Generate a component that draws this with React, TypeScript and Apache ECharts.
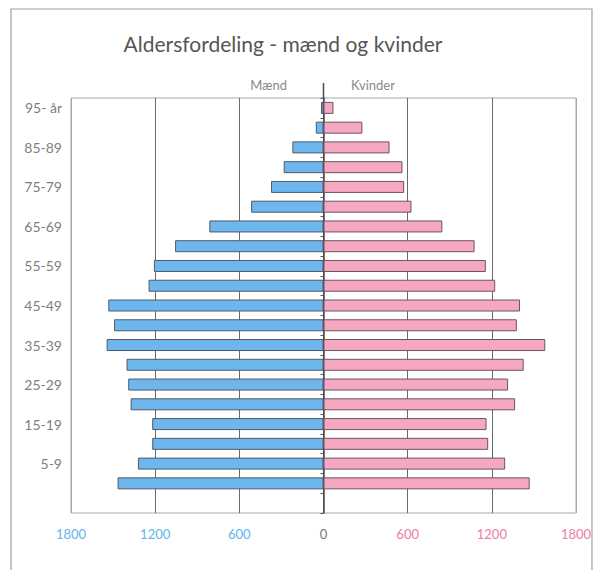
import React, { useEffect, useRef } from "react";
import * as echarts from "echarts";

const categories = ["", "0-4", "5-9", "10-14", "15-19", "20-24", "25-29", "30-34", "35-39", "40-44", "45-49", "50-54", "55-59", "60-64", "65-69", "70-74", "75-79", "80-84", "85-89", "90-94", "95- år"];
const maend = [null, 1468, 1323, 1221, 1221, 1375, 1392, 1404, 1546, 1493, 1534, 1247, 1209, 1058, 814, 516, 374, 284, 222, 55, 18];
const kvinder = [null, 1470, 1295, 1174, 1162, 1366, 1316, 1427, 1581, 1378, 1401, 1224, 1157, 1077, 847, 627, 575, 563, 471, 277, 71];
const xTicks = [-1800, -1200, -600, 0, 600, 1200, 1800];

const FONT = "Lato, 'Open Sans', sans-serif";
const BLUE = "#6db7ee";
const PINK = "#f6a7c1";

export default function App() {
  const ref = useRef<HTMLDivElement>(null);
  useEffect(() => {
    if (!ref.current) return;
    const chart = echarts.init(ref.current, null, { renderer: "svg" });
    chart.setOption({
      animation: false,
      backgroundColor: "#ffffff",
      grid: {
        left: 71, right: 20, top: 98, bottom: 57,
        show: true, borderColor: "#a8a8a8", borderWidth: 1,
      },
      xAxis: {
        type: "value",
        min: xTicks[0], max: xTicks[xTicks.length - 1], interval: 600,
        axisLine: { show: false },
        axisTick: { show: false },
        splitLine: {
          show: true,
          lineStyle: { color: ["#a8a8a8", "#6a6a6a", "#6a6a6a", "#555555", "#6a6a6a", "#6a6a6a", "#a8a8a8"], width: 1 },
        },
        axisLabel: {
          margin: 14,
          fontFamily: FONT, fontSize: 13,
          formatter: (v: number) => String(Math.abs(v)),
          color: (v: any) => {
            const n = Number(v);
            return n < 0 ? "#5fb3ee" : n > 0 ? "#f07aa8" : "#777777";
          },
        },
      },
      yAxis: [
        {
          type: "category",
          data: categories,
          position: "left",
          axisLine: { show: false, onZero: false },
          axisTick: { show: false },
          axisLabel: { interval: 1, margin: 9, fontFamily: FONT, fontSize: 14, color: "#7f7f7f" },
        },
        {
          type: "category",
          data: categories,
          position: "left",
          axisLine: { show: true, onZero: true, lineStyle: { color: "#4a4a4a", width: 1.5 } },
          axisTick: { show: true, length: 3, lineStyle: { color: "#555", width: 1 } },
          axisLabel: { show: false },
          splitLine: { show: false },
        },
      ],
      series: [
        {
          name: "Mænd",
          type: "bar",
          yAxisIndex: 0,
          data: maend.map((v) => (v == null ? null : -v)),
          barWidth: 12,
          barGap: "-100%",
          itemStyle: { color: BLUE, borderColor: "#505a66", borderWidth: 1 },
        },
        {
          name: "Kvinder",
          type: "bar",
          yAxisIndex: 0,
          data: kvinder,
          barWidth: 12,
          barGap: "-100%",
          itemStyle: { color: PINK, borderColor: "#6a5560", borderWidth: 1 },
        },
      ],
    });
    const x0 = chart.convertToPixel({ xAxisIndex: 0 }, 0) as number;
    chart.setOption({
      graphic: [
        { type: "rect", shape: { x: 11, y: 9, width: 581, height: 620 }, style: { fill: "none", stroke: "#a0a0a0", lineWidth: 1.2 }, silent: true },
        { type: "text", x: 283, y: 43, style: { text: "Aldersfordeling - mænd og kvinder", textAlign: "center", textVerticalAlign: "middle", font: `21px ${FONT}`, fill: "#555555" } },
        { type: "text", x: 287, y: 85, style: { text: "Mænd", textAlign: "right", textVerticalAlign: "middle", font: `13px ${FONT}`, fill: "#8a8a8a" } },
        { type: "text", x: 351, y: 85, style: { text: "Kvinder", textAlign: "left", textVerticalAlign: "middle", font: `13px ${FONT}`, fill: "#8a8a8a" } },
        { type: "line", shape: { x1: x0, y1: 83, x2: x0, y2: 98 }, style: { stroke: "#4a4a4a", lineWidth: 1.5 } },
      ],
    });
    return () => chart.dispose();
  }, []);
  return <div ref={ref} style={{ position: "fixed", left: 0, top: 0, width: 596, height: 570 }} />;
}
